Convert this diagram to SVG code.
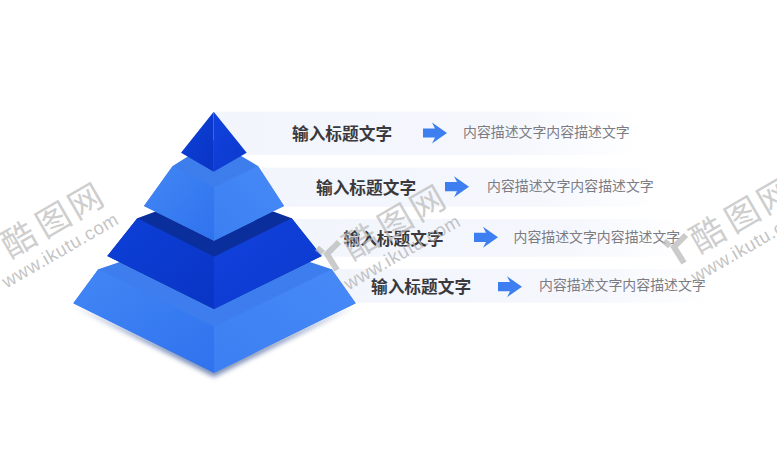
<svg xmlns="http://www.w3.org/2000/svg" xmlns:xlink="http://www.w3.org/1999/xlink" width="777" height="464" viewBox="0 0 777 464">
<style>
.t{font:700 16.7px "Noto Sans CJK SC","Liberation Sans",sans-serif;fill:#3a3a3e}
.d{font:400 13.9px "Noto Sans CJK SC","Liberation Sans",sans-serif;fill:#7c7c82}
.wc{font:400 34px "Noto Sans CJK SC",sans-serif;fill:#b8b8b8;fill-opacity:.7}
.wu{font:400 18.5px "Liberation Sans",sans-serif;fill:#b4b4b4;fill-opacity:.8;letter-spacing:.6px}
.wl{fill:none;stroke:#b9b9b9;stroke-width:6;stroke-opacity:.75}
</style>
<defs>
<linearGradient id="band" x1="0" x2="1" y1="0" y2="0"><stop offset="0" stop-color="#f2f5fc"/><stop offset=".7" stop-color="#f5f7fd"/><stop offset="1" stop-color="#fff"/></linearGradient>
<linearGradient id="dl" x1="0" x2="1" y1="0" y2="1"><stop offset="0" stop-color="#0c3fd8"/><stop offset="1" stop-color="#0a35c4"/></linearGradient>
<linearGradient id="dr" x1="0" x2="1" y1="0" y2="1"><stop offset="0" stop-color="#1141dd"/><stop offset="1" stop-color="#0c3ace"/></linearGradient>
<linearGradient id="ll" x1="0" x2="1" y1="0" y2="1"><stop offset="0" stop-color="#4287f5"/><stop offset="1" stop-color="#2f72ee"/></linearGradient>
<linearGradient id="lr" x1="0" x2="1" y1="1" y2="0"><stop offset="0" stop-color="#3b7ff3"/><stop offset="1" stop-color="#4789f6"/></linearGradient>
<filter id="sh" x="-20%" y="-20%" width="140%" height="140%"><feGaussianBlur stdDeviation="2.500"/></filter>
<path id="ar" d="M0-4.600H12L9-10.500 24 0 9 10.500 12 4.600H0Z" fill="#3d7ff0"/>
<g id="wm">
<path class="wl" d="M-11-7-5-2M11-13-1-1 9 15"/>
<g transform="rotate(-30)">
<text class="wc" x="18" y="17">酷</text><text class="wc" x="58" y="17">图</text><text class="wc" x="95" y="17">网</text>
<text class="wu" x="0" y="41">www.ikutu.com</text>
</g>
</g>
</defs>
<g id="bands">
<rect x="214" y="111.7" width="426" height="43.3" fill="url(#band)"/>
<rect x="262" y="167.7" width="400" height="39" fill="url(#band)"/>
<rect x="290" y="219" width="396" height="37.7" fill="url(#band)"/>
<rect x="320" y="269" width="392" height="33.7" fill="url(#band)"/>
</g>
<g id="pyramid">
<path id="shadow" d="M74 306 214 377 355 306 214 368Z" fill="#3f5a98" opacity=".7" filter="url(#sh)"/>
<g id="tier4">
<path d="M98.300 269.300 214 230 331.700 269.300 355.700 303.300 214 372.700 73.300 303.300Z" fill="#3d7ded"/>
<path d="M98.300 269.300 214 326.700V372.700L73.300 303.300Z" fill="url(#ll)"/>
<path d="M331.700 269.300 355.700 303.300 214 372.700V326.700Z" fill="url(#lr)"/>
</g>
<g id="tier3">
<path d="M137.300 218.300 214 190 291.700 218.300 321.700 256 214 309 107.300 256Z" fill="#0a2f9c"/>
<path d="M137.300 218.300 214 256.700V309L107.300 256Z" fill="url(#dl)"/>
<path d="M291.700 218.300 321.700 256 214 309V256.700Z" fill="url(#dr)"/>
</g>
<g id="tier2">
<path d="M172.700 166 214 140 258 166 284 206 214 240.700 144 206Z" fill="#3e7dec"/>
<path d="M172.700 166 214 187.300V240.700L144 206Z" fill="url(#ll)"/>
<path d="M258 166 284 206 214 240.700V187.300Z" fill="url(#lr)"/>
</g>
<g id="tier1">
<path d="M213.700 111.700V171.700L181 152.700Z" fill="url(#dl)"/>
<path d="M213.700 111.700 246.700 152.700 213.700 171.700Z" fill="url(#dr)"/>
</g>
</g>
<g id="row1"><text class="t" x="292" y="140">输入标题文字</text><text class="d" x="463" y="137">内容描述文字内容描述文字</text></g>
<g id="row2"><text class="t" x="316" y="194">输入标题文字</text><text class="d" x="487" y="190.500">内容描述文字内容描述文字</text></g>
<g id="row3"><text class="t" x="343.500" y="245">输入标题文字</text><text class="d" x="513.500" y="242">内容描述文字内容描述文字</text></g>
<g id="row4"><text class="t" x="371" y="293">输入标题文字</text><text class="d" x="539" y="290">内容描述文字内容描述文字</text></g>
<g id="connectors">
<use xlink:href="#ar" href="#ar" x="423" y="133"/>
<use xlink:href="#ar" href="#ar" x="445" y="186.700"/>
<use xlink:href="#ar" href="#ar" x="474" y="237.300"/>
<use xlink:href="#ar" href="#ar" x="498" y="286.700"/>
</g>
<g id="watermarks">
<use xlink:href="#wm" href="#wm" x="-14" y="253"/>
<use xlink:href="#wm" href="#wm" x="328" y="255"/>
<use xlink:href="#wm" href="#wm" x="675" y="248"/>
</g>
</svg>
